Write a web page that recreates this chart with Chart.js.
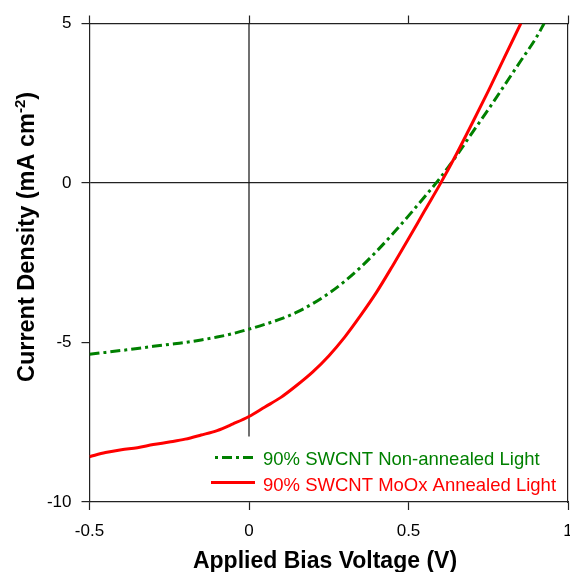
<!DOCTYPE html>
<html><head><meta charset="utf-8">
<script src="https://cdn.jsdelivr.net/npm/chart.js@4/dist/chart.umd.min.js"></script>
<style>html,body{margin:0;padding:0;background:#fff;}canvas{display:block;}</style>
</head><body>
<canvas id="c" width="570" height="572"></canvas>
<script>
// ---- data ----
const greenVoltage = [-0.5,-0.45,-0.4,-0.35,-0.3,-0.25,-0.2,-0.15,-0.1,-0.05,0,0.05,0.1,0.15,0.2,0.25,0.3,0.35,0.4,0.45,0.5,0.55,0.6,0.65,0.7,0.75,0.8,0.85,0.9,0.925];
const greenCurrent = [-5.37,-5.31,-5.25,-5.19,-5.12,-5.06,-5.0,-4.92,-4.83,-4.72,-4.58,-4.43,-4.26,-4.05,-3.78,-3.46,-3.08,-2.64,-2.14,-1.6,-1.03,-0.44,0.17,0.85,1.58,2.3,3.05,3.8,4.55,5.0];
const redVoltage = [-0.5,-0.45,-0.4,-0.35,-0.3,-0.25,-0.2,-0.15,-0.1,-0.05,0,0.05,0.1,0.15,0.2,0.25,0.3,0.35,0.4,0.45,0.5,0.55,0.6,0.65,0.7,0.75,0.8,0.852];
const redCurrent = [-8.58,-8.45,-8.36,-8.3,-8.2,-8.12,-8.03,-7.9,-7.76,-7.55,-7.32,-7.02,-6.72,-6.34,-5.92,-5.42,-4.83,-4.15,-3.42,-2.6,-1.75,-0.88,-0.02,0.9,1.88,2.88,3.92,5.0];
const xTickLabels = ['-0.5','0','0.5','1'];
const yTickLabels = ['-10','-5','0','5'];
const seriesLabels = ['90% SWCNT Non-annealed Light','90% SWCNT MoOx Annealed Light'];
const seriesColors = ['#008000','#ff0000'];
const xTitle = 'Applied Bias Voltage (V)';
const yTitleMain = 'Current Density (mA cm';
const yTitleSup = '-2';
const yTitleEnd = ')';
const zeroLineVoltage = [0, 0];
const zeroLineCurrent = [5, -7.95];

const FONT = "'Liberation Sans', Arial, Helvetica, sans-serif";
const AX = '#222';
const toPts = (xs, ys) => xs.map((x, i) => ({x, y: ys[i]}));

const overlay = {
  id: 'overlay',
  afterDraw(chart) {
    const ctx = chart.ctx;
    ctx.save();
    ctx.fillStyle = '#000';
    ctx.font = `bold 23px ${FONT}`;
    ctx.textAlign = 'center';
    ctx.textBaseline = 'alphabetic';
    ctx.fillText(xTitle, 325, 568);
    ctx.save();
    ctx.translate(34, 237);
    ctx.rotate(-Math.PI / 2);
    ctx.textAlign = 'left';
    ctx.font = `bold 23.5px ${FONT}`;
    const w1 = ctx.measureText(yTitleMain).width;
    const w3 = ctx.measureText(yTitleEnd).width;
    ctx.font = `bold 15px ${FONT}`;
    const w2 = ctx.measureText(yTitleSup).width;
    const total = w1 + w2 + w3;
    let x0 = -total / 2;
    ctx.font = `bold 23.5px ${FONT}`;
    ctx.fillText(yTitleMain, x0, 0);
    ctx.font = `bold 15px ${FONT}`;
    ctx.fillText(yTitleSup, x0 + w1, -9);
    ctx.font = `bold 23.5px ${FONT}`;
    ctx.fillText(yTitleEnd, x0 + w1 + w2, 0);
    ctx.restore();
    ctx.font = `18.5px ${FONT}`;
    ctx.textAlign = 'left';
    ctx.lineWidth = 3;
    ctx.strokeStyle = seriesColors[0];
    ctx.setLineDash([3, 4, 10, 4]);
    ctx.beginPath(); ctx.moveTo(215, 457.5); ctx.lineTo(255, 457.5); ctx.stroke();
    ctx.fillStyle = seriesColors[0];
    ctx.fillText(seriesLabels[0], 263, 465);
    ctx.setLineDash([]);
    ctx.strokeStyle = seriesColors[1];
    ctx.beginPath(); ctx.moveTo(211, 482.5); ctx.lineTo(255, 482.5); ctx.stroke();
    ctx.fillStyle = seriesColors[1];
    ctx.fillText(seriesLabels[1], 263, 490.5);
    ctx.restore();
  }
};

const noPad = s => { s.paddingLeft = 0; s.paddingRight = 0; s.paddingTop = 0; s.paddingBottom = 0; };

new Chart(document.getElementById('c'), {
  type: 'line',
  data: {
    datasets: [
      {label: seriesLabels[1], data: toPts(redVoltage, redCurrent), borderColor: seriesColors[1], borderWidth: 3, pointRadius: 0, cubicInterpolationMode: 'monotone', fill: false},
      {label: seriesLabels[0], data: toPts(greenVoltage, greenCurrent), borderColor: seriesColors[0], borderWidth: 3, borderDash: [10, 4, 3, 4], pointRadius: 0, cubicInterpolationMode: 'monotone', fill: false},
      {label: 'zero', data: toPts(zeroLineVoltage, zeroLineCurrent), borderColor: '#111', borderWidth: 1.2, pointRadius: 0, fill: false}
    ]
  },
  options: {
    responsive: false,
    animation: false,
    layout: {padding: 0},
    plugins: {legend: {display: false}, tooltip: {enabled: false}, title: {display: false}},
    scales: {
      x: {
        type: 'linear', position: 'bottom', min: -0.5, max: 1,
        ticks: {stepSize: 0.5, padding: 11, color: '#000', font: {family: FONT, size: 17}, callback: (v, i) => xTickLabels[i]},
        grid: {drawOnChartArea: false, drawTicks: true, tickLength: 8, tickColor: AX, tickWidth: 1.2},
        border: {display: true, color: AX, width: 1.2},
        afterFit: s => { s.height = 70; noPad(s); }
      },
      x2: {
        type: 'linear', position: 'top', min: -0.5, max: 1,
        ticks: {stepSize: 0.5, display: false},
        grid: {drawOnChartArea: false, drawTicks: true, tickLength: 8, tickColor: AX, tickWidth: 1.2},
        border: {display: true, color: AX, width: 1.2},
        afterFit: s => { s.height = 23.5; noPad(s); }
      },
      y: {
        type: 'linear', position: 'left', min: -10, max: 5,
        ticks: {stepSize: 5, padding: 10, color: '#000', font: {family: FONT, size: 17}, callback: (v, i) => yTickLabels[i]},
        grid: {drawOnChartArea: true, drawTicks: true, tickLength: 8, tickColor: AX, tickWidth: 1.2,
               color: c => (c.tick && c.tick.value === 0) ? AX : 'rgba(0,0,0,0)', lineWidth: 1.2},
        border: {display: true, color: AX, width: 1.2},
        afterFit: s => { s.width = 89.5; noPad(s); }
      },
      y2: {
        type: 'linear', position: 'right', min: -10, max: 5,
        ticks: {display: false},
        grid: {drawOnChartArea: false, drawTicks: false},
        border: {display: true, color: AX, width: 1.2},
        afterFit: s => { s.width = 2; noPad(s); }
      }
    }
  },
  plugins: [overlay]
});
</script>
</body></html>
